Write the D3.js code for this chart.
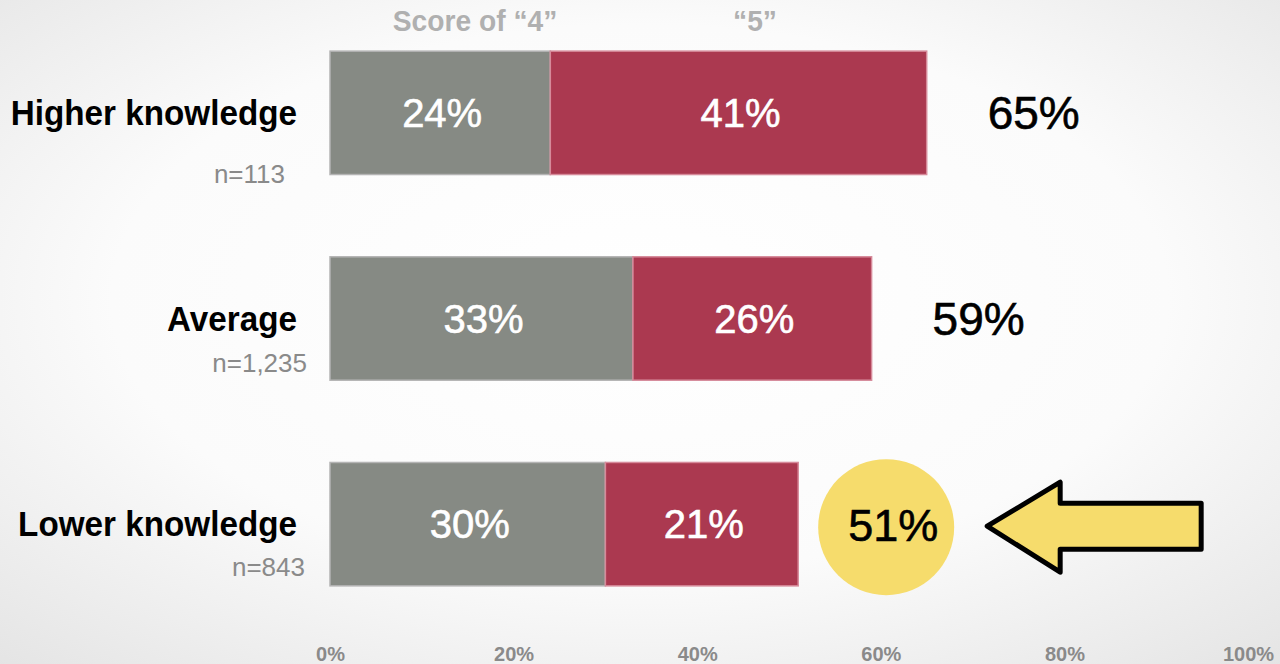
<!DOCTYPE html>
<html>
<head>
<meta charset="utf-8">
<script src="https://cdn.jsdelivr.net/npm/d3@7"></script>
<style>
  html, body { margin: 0; padding: 0; }
  body { width: 1280px; height: 664px; overflow: hidden; }
  svg { display: block; }
  text { font-family: "Liberation Sans", Arial, sans-serif; }
</style>
</head>
<body>
<svg id="chart" width="1280" height="664"></svg>
<script>
// Share giving a score of "4" or "5", by knowledge group
const categories = ["Higher knowledge", "Average", "Lower knowledge"];
const sampleSizes = ["n=113", "n=1,235", "n=843"];
const score4 = [24, 33, 30];
const score5 = [41, 26, 21];
const totals = [65, 59, 51];
const seriesNames = ["Score of \u201C4\u201D", "\u201C5\u201D"];
const tickValues = [0, 20, 40, 60, 80, 100];

const W = 1280, H = 664;
const svg = d3.select("#chart");

// soft radial backdrop
const defs = svg.append("defs");
const grad = defs.append("radialGradient")
  .attr("id", "bg").attr("cx", "50%").attr("cy", "45%").attr("r", "75%");
grad.append("stop").attr("offset", "0%").attr("stop-color", "#ffffff");
grad.append("stop").attr("offset", "55%").attr("stop-color", "#fbfbfb");
grad.append("stop").attr("offset", "100%").attr("stop-color", "#e4e4e4");
svg.append("rect").attr("width", W).attr("height", H).attr("fill", "url(#bg)");

const x = d3.scaleLinear().domain([0, 100]).range([330, 1248]);
const y = d3.scaleBand().domain(categories).range([10, 627]).paddingInner(0.4).paddingOuter(0.2);

const rows = categories.map((c, i) => ({
  cat: c, n: sampleSizes[i], s4: score4[i], s5: score5[i], total: totals[i], i
}));

const g = svg.append("g");

// grey segment: score of 4
g.selectAll("rect.s4").data(rows).join("rect")
  .attr("class", "s4")
  .attr("x", d => x(0))
  .attr("y", d => y(d.cat))
  .attr("width", d => x(d.s4) - x(0))
  .attr("height", y.bandwidth())
  .attr("fill", "#868a84")
  .attr("stroke", "#b4b4b4").attr("stroke-width", 1.5);

// red segment: score of 5
g.selectAll("rect.s5").data(rows).join("rect")
  .attr("class", "s5")
  .attr("x", d => x(d.s4))
  .attr("y", d => y(d.cat))
  .attr("width", d => x(d.s4 + d.s5) - x(d.s4))
  .attr("height", y.bandwidth())
  .attr("fill", "#ab3950")
  .attr("stroke", "#d68a9a").attr("stroke-width", 1.5);

const mid = d => y(d.cat) + y.bandwidth() / 2;

// in-bar value labels
g.selectAll("text.v4").data(rows).join("text")
  .attr("x", d => x(d.s4 / 2) + 2)
  .attr("y", mid).attr("dy", "0.35em")
  .attr("text-anchor", "middle")
  .attr("fill", "#ffffff").attr("stroke", "#ffffff").attr("stroke-width", 0.6)
  .attr("font-size", 40)
  .text(d => d.s4 + "%");

g.selectAll("text.v5").data(rows).join("text")
  .attr("x", d => x(d.s4 + d.s5 / 2) + 2)
  .attr("y", mid).attr("dy", "0.35em")
  .attr("text-anchor", "middle")
  .attr("fill", "#ffffff").attr("stroke", "#ffffff").attr("stroke-width", 0.6)
  .attr("font-size", 40)
  .text(d => d.s5 + "%");

// totals to the right of the bars (last one highlighted)
const highlight = rows[rows.length - 1];
const circleR = 68;
const cx = x(highlight.total) + 20 + circleR;
g.append("circle")
  .attr("cx", cx).attr("cy", mid(highlight) + 3).attr("r", circleR)
  .attr("fill", "#f6dc6c");

g.selectAll("text.tot").data(rows).join("text")
  .attr("x", d => d === highlight ? cx + 7 : x(d.total) + 61)
  .attr("y", mid).attr("dy", d => d === highlight ? "0.38em" : "0.35em")
  .attr("text-anchor", d => d === highlight ? "middle" : "start")
  .attr("fill", "#000").attr("stroke", "#000").attr("stroke-width", 0.6)
  .attr("font-size", d => d === highlight ? 45 : 46)
  .text(d => d.total + "%");

// arrow pointing at the highlighted total
const ay = mid(highlight) + 2;
const tipX = cx + circleR + 33;
const arrow = [
  [tipX, ay],
  [tipX + 73, ay - 44],
  [tipX + 73, ay - 23],
  [tipX + 214, ay - 23],
  [tipX + 214, ay + 23],
  [tipX + 73, ay + 23],
  [tipX + 73, ay + 46]
];
g.append("path")
  .attr("d", d3.line()(arrow) + "Z")
  .attr("fill", "#f6dc6c")
  .attr("stroke", "#000").attr("stroke-width", 5)
  .attr("stroke-linejoin", "round");

// slightly condensed text placed at (px, py)
const squeezed = (sel, px, py, sx) =>
  sel.attr("transform", (d, i) => `translate(${px(d, i)},${py(d, i)}) scale(${sx},1)`);

// category labels and sample sizes
g.selectAll("text.cat").data(rows).join("text")
  .attr("dy", "0.35em")
  .attr("text-anchor", "end")
  .attr("font-weight", "bold").attr("font-size", 35)
  .attr("fill", "#000")
  .text(d => d.cat)
  .call(squeezed, () => 297, d => mid(d), 0.95);

const nShift = [[-12, 70], [10, 53], [8, 52]];
g.selectAll("text.n").data(rows).join("text")
  .attr("text-anchor", "end")
  .attr("font-size", 26)
  .attr("fill", "#8a8a8a")
  .text(d => d.n)
  .call(squeezed, d => 297 + nShift[d.i][0], d => mid(d) + nShift[d.i][1], 1.0);

// series headers above the first bar
const firstBarTop = y(categories[0]);
const headerX = [475, 755];
g.selectAll("text.hdr").data(seriesNames).join("text")
  .attr("text-anchor", "middle")
  .attr("font-size", 30).attr("font-weight", "bold").attr("fill", "#b0b0b0")
  .text(d => d)
  .call(squeezed, (d, i) => headerX[i], () => firstBarTop - 20, 0.94);

// percentage axis along the bottom
const axis = d3.axisBottom(x).tickValues(tickValues).tickFormat(d => d + "%").tickSize(0);
const ax = svg.append("g").attr("transform", "translate(0,644)").call(axis);
ax.select(".domain").remove();
ax.selectAll("text")
  .attr("font-family", "Liberation Sans, Arial, sans-serif")
  .attr("font-size", 20).attr("font-weight", "bold")
  .attr("fill", "#8a8a8a");
</script>
</body>
</html>
